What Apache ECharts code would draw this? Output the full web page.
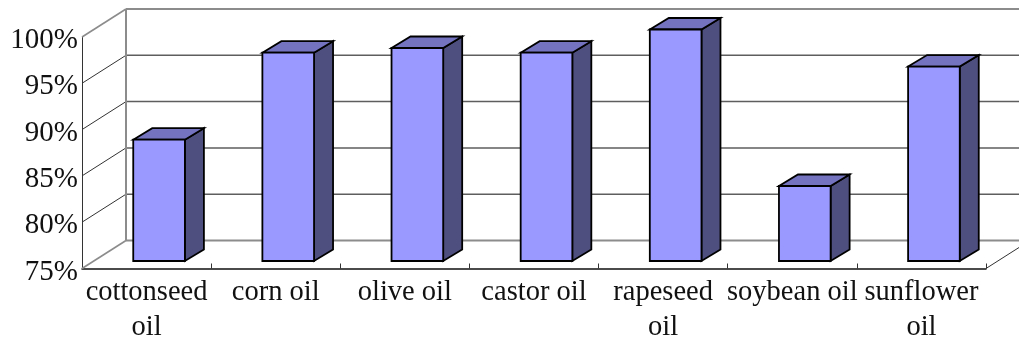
<!DOCTYPE html>
<html>
<head>
<meta charset="utf-8">
<style>html,body{margin:0;padding:0;background:#fff}#chart{width:1019px;height:340px}</style>
<script src="https://cdn.jsdelivr.net/npm/echarts@6/dist/echarts.min.js"></script>
</head>
<body>
<div id="chart"></div>
<script>
const categories = ['cottonseed\noil', 'corn oil', 'olive oil', 'castor oil', 'rapeseed\noil', 'soybean oil', 'sunflower\noil'];
const conversion = [88.1, 97.5, 98, 97.5, 100, 83.1, 96];
const yTicks = [75, 80, 85, 90, 95, 100];

// Oblique projection offsets for the box: wall depth, bar inset, bar depth
const WALL_DX = 44, WALL_DY = 28;
const INSET_DX = 12.5, INSET_DY = 7.5;
const BAR_DX = 19, BAR_DY = 11.5;
const BAR_RATIO = 0.4;

const serif = '"Liberation Serif", "Times New Roman", serif';
const chart = echarts.init(document.getElementById('chart'), null, { renderer: 'canvas' });

function line(x1, y1, x2, y2, stroke, lineWidth) {
  return { type: 'line', shape: { x1, y1, x2, y2 }, style: { stroke, lineWidth, fill: null } };
}

function renderWall(params, api) {
  const v = api.value(0);
  const g = params.coordSys;
  const y = api.coord([0, v])[1];
  const l = g.x, r = g.x + g.width;
  const edge = v === 75 || v === 100;
  const children = [
    line(l, y, l + WALL_DX, y - WALL_DY, edge ? '#8c8c8c' : '#333', edge ? 1.6 : 1),
    line(l + WALL_DX, y - WALL_DY, r + WALL_DX, y - WALL_DY, edge ? '#8c8c8c' : '#5e5e5e', edge ? 2 : 1.5)
  ];
  if (v === 100) {
    const y0 = api.coord([0, 75])[1];
    children.push(line(l + WALL_DX, y - WALL_DY, l + WALL_DX, y0 - WALL_DY, '#8c8c8c', 2));
  }
  if (v === 75) {
    children.push(line(r, y, r + WALL_DX, y - WALL_DY, '#333', 1));
  }
  return { type: 'group', children };
}

function renderBar(params, api) {
  const i = api.value(0);
  const band = api.size([1, 0])[0];
  const w = band * BAR_RATIO;
  const top = api.coord([i, api.value(1)]);
  const base = api.coord([i, 75]);
  const x0 = top[0] - w / 2 + INSET_DX, x1 = x0 + w;
  const y0 = top[1] - INSET_DY, y1 = base[1] - INSET_DY;
  const style = c => ({ fill: c, stroke: '#000', lineWidth: 1.8, lineJoin: 'miter' });
  return {
    type: 'group',
    children: [
      { type: 'polygon', shape: { points: [[x1, y0], [x1 + BAR_DX, y0 - BAR_DY], [x1 + BAR_DX, y1 - BAR_DY], [x1, y1]] }, style: style('#4f4f7f') },
      { type: 'polygon', shape: { points: [[x0, y0], [x0 + BAR_DX, y0 - BAR_DY], [x1 + BAR_DX, y0 - BAR_DY], [x1, y0]] }, style: style('#7373bf') },
      { type: 'rect', shape: { x: x0, y: y0, width: w, height: y1 - y0 }, style: style('#9999ff') }
    ]
  };
}

chart.setOption({
  animation: false,
  backgroundColor: '#fff',
  grid: { left: 82, right: 33, top: 37, bottom: 71.5, containLabel: false, outerBoundsMode: 'none' },
  xAxis: {
    type: 'category',
    data: categories,
    axisLine: { show: true, lineStyle: { color: '#111', width: 1.5 } },
    axisTick: { show: true, inside: true, length: 5, alignWithLabel: false, lineStyle: { color: '#333', width: 1 } },
    axisLabel: { interval: 0, color: '#111', fontFamily: serif, fontSize: 28.5, lineHeight: 35, margin: 7, hideOverlap: false },
    splitLine: { show: false }
  },
  yAxis: {
    type: 'value',
    min: 75, max: 100, interval: 5,
    axisLine: { show: true, lineStyle: { color: '#333', width: 1 } },
    axisTick: { show: false },
    axisLabel: { formatter: '{value}%', color: '#111', fontFamily: serif, fontSize: 29, margin: 4, verticalAlign: 'top', lineHeight: 7 },
    splitLine: { show: false }
  },
  series: [
    {
      type: 'custom', name: 'walls', coordinateSystem: 'cartesian2d', clip: false, z: 1,
      data: yTicks.map(v => [v]), encode: { y: 0 }, renderItem: renderWall, silent: true
    },
    {
      type: 'custom', name: 'conversion', coordinateSystem: 'cartesian2d', clip: false, z: 3,
      data: conversion.map((v, i) => [i, v]), encode: { x: 0, y: 1 }, renderItem: renderBar
    }
  ]
});
</script>
</body>
</html>
